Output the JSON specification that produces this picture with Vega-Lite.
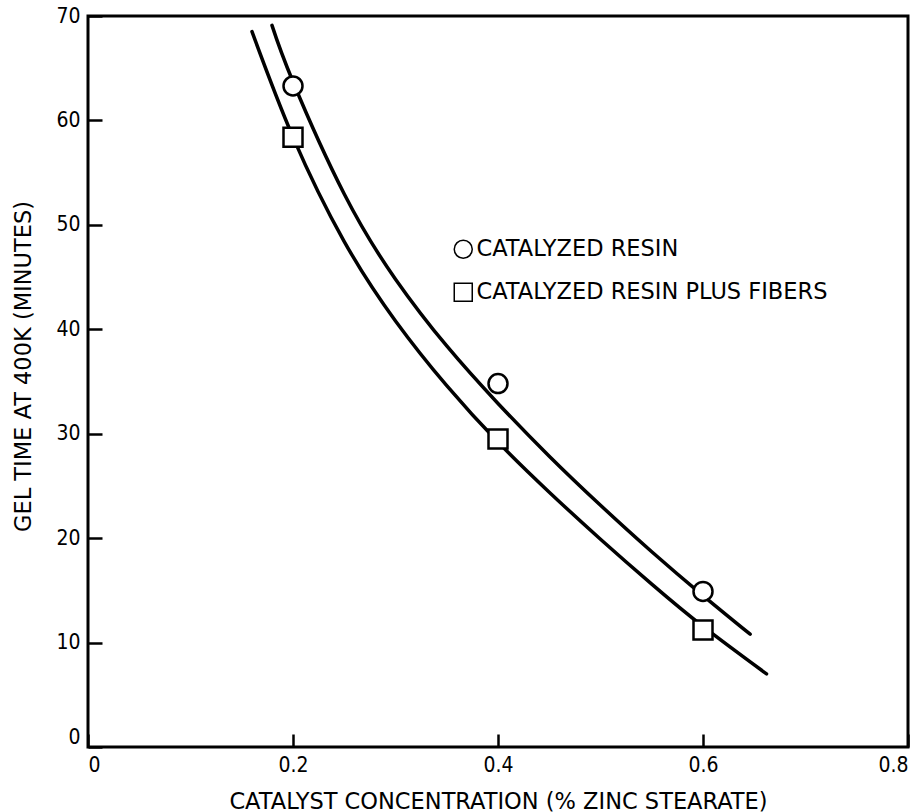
{
  "$schema": "https://vega.github.io/schema/vega-lite/v6.json",
  "width": 820,
  "height": 731,
  "autosize": {"type": "none"},
  "padding": {"left": 88, "top": 16, "right": 4, "bottom": 65},
  "background": "white",
  "config": {
    "view": {"stroke": "black", "strokeWidth": 3},
    "font": "DejaVu Sans Condensed, DejaVu Sans, sans-serif",
    "axis": {
      "domain": false,
      "grid": false,
      "tickColor": "black",
      "tickWidth": 2.5,
      "labelColor": "black",
      "titleColor": "black",
      "labelFont": "DejaVu Sans Condensed, DejaVu Sans, sans-serif",
      "titleFont": "DejaVu Sans, sans-serif",
      "labelFontSize": 21,
      "titleFontSize": 22.5,
      "titleFontWeight": "normal"
    }
  },
  "datasets": {
    "points": [
      {"series": "CATALYZED RESIN", "conc": 0.2, "gel": 63.3},
      {"series": "CATALYZED RESIN", "conc": 0.4, "gel": 34.8},
      {"series": "CATALYZED RESIN", "conc": 0.6, "gel": 14.9},
      {"series": "CATALYZED RESIN PLUS FIBERS", "conc": 0.2, "gel": 58.4},
      {"series": "CATALYZED RESIN PLUS FIBERS", "conc": 0.4, "gel": 29.5},
      {"series": "CATALYZED RESIN PLUS FIBERS", "conc": 0.6, "gel": 11.2}
    ],
    "curves": [
      {"curve": "resin", "conc": 0.1795, "gel": 69.1},
      {"curve": "resin", "conc": 0.2, "gel": 63.7},
      {"curve": "resin", "conc": 0.25, "gel": 52.95},
      {"curve": "resin", "conc": 0.3, "gel": 44.8},
      {"curve": "resin", "conc": 0.35, "gel": 38.4},
      {"curve": "resin", "conc": 0.4, "gel": 32.9},
      {"curve": "resin", "conc": 0.45, "gel": 27.85},
      {"curve": "resin", "conc": 0.5, "gel": 23.15},
      {"curve": "resin", "conc": 0.55, "gel": 18.7},
      {"curve": "resin", "conc": 0.6, "gel": 14.5},
      {"curve": "resin", "conc": 0.646, "gel": 10.8},
      {"curve": "fibers", "conc": 0.16, "gel": 68.5},
      {"curve": "fibers", "conc": 0.2, "gel": 58.4},
      {"curve": "fibers", "conc": 0.25, "gel": 48.4},
      {"curve": "fibers", "conc": 0.3, "gel": 40.8},
      {"curve": "fibers", "conc": 0.35, "gel": 34.6},
      {"curve": "fibers", "conc": 0.4, "gel": 29.2},
      {"curve": "fibers", "conc": 0.45, "gel": 24.4},
      {"curve": "fibers", "conc": 0.5, "gel": 19.9},
      {"curve": "fibers", "conc": 0.55, "gel": 15.6},
      {"curve": "fibers", "conc": 0.6, "gel": 11.55},
      {"curve": "fibers", "conc": 0.662, "gel": 7.0}
    ]
  },
  "encoding": {
    "x": {
      "field": "conc",
      "type": "quantitative",
      "scale": {"domain": [0, 0.8], "nice": false},
      "axis": {
        "title": "CATALYST CONCENTRATION (% ZINC STEARATE)",
        "values": [0, 0.2, 0.4, 0.6, 0.8],
        "labelExpr": "datum.value == 0 ? '0' : format(datum.value, '.1f')",
        "tickSize": -13,
        "labelPadding": 20,
        "labelFlush": true,
        "titlePadding": 15
      }
    },
    "y": {
      "field": "gel",
      "type": "quantitative",
      "scale": {"domain": [0, 70], "nice": false},
      "axis": {
        "title": "GEL TIME AT 400K (MINUTES)",
        "values": [0, 10, 20, 30, 40, 50, 60, 70],
        "tickSize": -14,
        "labelPadding": 22,
        "labelBaseline": {"condition": {"test": "datum.value == 0", "value": "bottom"}, "value": "middle"},
        "titlePadding": 20,
        "titleY": 350
      }
    }
  },
  "layer": [
    {
      "data": {"name": "curves"},
      "mark": {"type": "line", "color": "black", "strokeWidth": 3.5, "interpolate": "natural", "strokeCap": "round"},
      "encoding": {"detail": {"field": "curve"}}
    },
    {
      "data": {"name": "points"},
      "mark": {"type": "point", "filled": true, "fill": "white", "stroke": "black", "strokeWidth": 2.5, "opacity": 1, "size": 361},
      "encoding": {
        "shape": {
          "field": "series",
          "type": "nominal",
          "scale": {"domain": ["CATALYZED RESIN", "CATALYZED RESIN PLUS FIBERS"], "range": ["circle", "square"]},
          "legend": {
            "title": null,
            "orient": "none",
            "legendX": 364,
            "legendY": 222,
            "symbolSize": 324,
            "labelOffset": 2,
            "rowPadding": 18,
            "labelLimit": 600,
            "labelFont": "DejaVu Sans, sans-serif",
            "labelFontSize": 22.5,
            "labelColor": "black",
            "encode": {
              "symbols": {
                "update": {
                  "fill": {"value": "white"},
                  "stroke": {"value": "black"},
                  "strokeWidth": {"value": 2},
                  "opacity": {"value": 1}
                }
              }
            }
          }
        }
      }
    }
  ]
}
